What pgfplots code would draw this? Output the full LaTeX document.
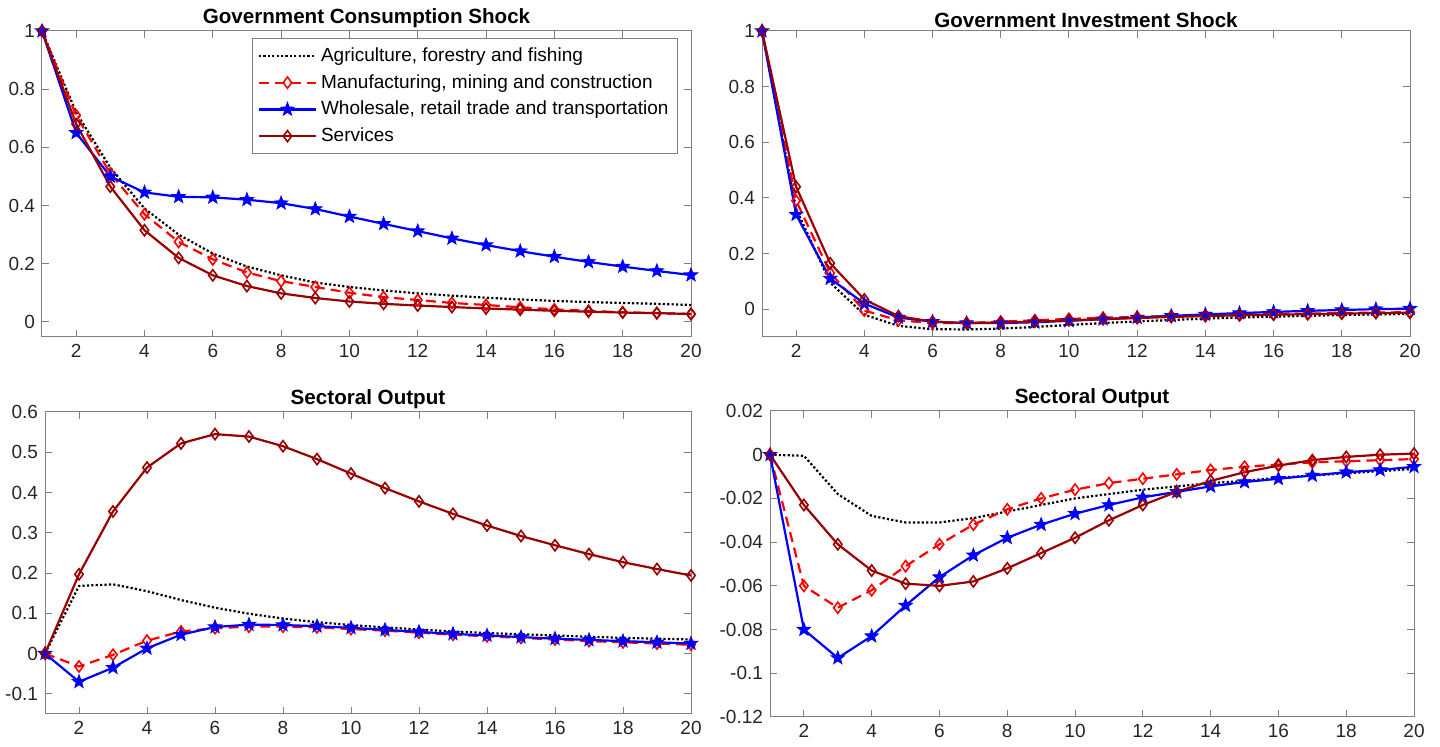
\documentclass[border=0pt]{standalone}
\usepackage{fontspec}
\setmainfont{Liberation Sans}
\usepackage{pgfplots}
\pgfplotsset{compat=1.18}
\definecolor{svc}{rgb}{0.6,0,0}
\definecolor{axgray}{rgb}{0.5,0.5,0.5}
\definecolor{txtgray}{rgb}{0.15,0.15,0.15}
\pgfdeclareplotmark{fstar}{%
  \pgfpathmoveto{\pgfpointpolar{90}{\pgfplotmarksize}}%
  \pgfpathlineto{\pgfpointpolar{126}{0.42\pgfplotmarksize}}%
  \pgfpathlineto{\pgfpointpolar{162}{\pgfplotmarksize}}%
  \pgfpathlineto{\pgfpointpolar{198}{0.42\pgfplotmarksize}}%
  \pgfpathlineto{\pgfpointpolar{234}{\pgfplotmarksize}}%
  \pgfpathlineto{\pgfpointpolar{270}{0.42\pgfplotmarksize}}%
  \pgfpathlineto{\pgfpointpolar{306}{\pgfplotmarksize}}%
  \pgfpathlineto{\pgfpointpolar{342}{0.42\pgfplotmarksize}}%
  \pgfpathlineto{\pgfpointpolar{18}{\pgfplotmarksize}}%
  \pgfpathlineto{\pgfpointpolar{54}{0.42\pgfplotmarksize}}%
  \pgfpathclose\pgfusepathqfillstroke}
\pgfplotsset{
  every axis/.style={
    scale only axis, anchor=south west,
    xmin=1, xmax=20, xtick={2,4,...,20},
    axis line style={axgray, line width=0.5pt},
    tick style={axgray, line width=0.5pt},
    major tick length=3.5pt,
    tick align=inside, xtick pos=both, ytick pos=both,
    tick label style={font=\fontsize{9.5}{11}\selectfont, text=txtgray},
    /pgf/number format/assume math mode=true,
    /pgf/number format/fixed,
    title style={font=\bfseries\fontsize{10.3}{12}\selectfont, yshift=-7.8pt},
    clip=false,
  },
  agr/.style={black, line width=1.1pt, dash pattern=on 1.1pt off 1.1pt, mark=none},
  man/.style={red, line width=1.1pt, dash pattern=on 5pt off 3pt, mark=diamond, mark size=2.8pt, mark options={solid, fill=white, line width=0.8pt}},
  whs/.style={blue, line width=1.1pt, mark=fstar, mark size=3.4pt, mark options={solid, fill=blue, line width=0.5pt}},
  srv/.style={svc, line width=1.1pt, mark=diamond, mark size=2.8pt, mark options={solid, fill=svc!60!white, line width=0.8pt}},
}
\begin{document}
\begin{tikzpicture}
\useasboundingbox (0pt,0pt) rectangle (720pt,373.5pt);
% Panel 1
\begin{axis}[at={(21pt,205pt)}, width=324.5pt, height=153pt,
  ymin=-0.052, ymax=1, ytick={0,0.2,0.4,0.6,0.8,1},
  yticklabels={0,0.2,0.4,0.6,0.8,1},
  title={Government Consumption Shock},
  legend image code/.code={\draw[mark repeat=2,mark phase=2] plot coordinates {(0cm,0cm)(0.5cm,0cm)(1.0cm,0cm)};},
  legend style={at={(1,1)}, xshift=-6.5pt, yshift=-3.5pt, anchor=north east,
    draw=axgray, line width=0.5pt, font=\fontsize{9.5}{11}\selectfont, text=black,
    row sep=1pt, inner sep=2.5pt},
  legend cell align=left]
\addplot[agr] coordinates {(1,1)(2,0.72)(3,0.53)(4,0.39)(5,0.30)(6,0.235)(7,0.19)(8,0.16)(9,0.135)(10,0.12)(11,0.108)(12,0.098)(13,0.09)(14,0.083)(15,0.077)(16,0.072)(17,0.068)(18,0.065)(19,0.062)(20,0.058)};
\addlegendentry{Agriculture, forestry and fishing}
\addplot[man] coordinates {(1,1)(2,0.71)(3,0.51)(4,0.37)(5,0.275)(6,0.215)(7,0.17)(8,0.14)(9,0.12)(10,0.10)(11,0.085)(12,0.075)(13,0.065)(14,0.058)(15,0.05)(16,0.043)(17,0.038)(18,0.033)(19,0.03)(20,0.027)};
\addlegendentry{Manufacturing, mining and construction}
\addplot[whs] coordinates {(1,1)(2,0.65)(3,0.50)(4,0.445)(5,0.43)(6,0.428)(7,0.42)(8,0.408)(9,0.388)(10,0.362)(11,0.337)(12,0.312)(13,0.287)(14,0.264)(15,0.243)(16,0.224)(17,0.206)(18,0.19)(19,0.175)(20,0.161)};
\addlegendentry{Wholesale, retail trade and transportation}
\addplot[srv] coordinates {(1,1)(2,0.68)(3,0.465)(4,0.315)(5,0.22)(6,0.16)(7,0.123)(8,0.098)(9,0.082)(10,0.07)(11,0.062)(12,0.056)(13,0.051)(14,0.046)(15,0.042)(16,0.038)(17,0.035)(18,0.032)(19,0.03)(20,0.027)};
\addlegendentry{Services}
\end{axis}
% Panel 2
\begin{axis}[at={(381pt,205pt)}, width=324pt, height=153pt,
  ymin=-0.1, ymax=1, ytick={0,0.2,0.4,0.6,0.8,1},
  yticklabels={0,0.2,0.4,0.6,0.8,1},
  title={Government Investment Shock}]
\addplot[agr] coordinates {(1,1)(2,0.36)(3,0.095)(4,-0.02)(5,-0.06)(6,-0.072)(7,-0.073)(8,-0.07)(9,-0.064)(10,-0.057)(11,-0.05)(12,-0.044)(13,-0.039)(14,-0.034)(15,-0.03)(16,-0.027)(17,-0.024)(18,-0.021)(19,-0.019)(20,-0.017)};
\addplot[man] coordinates {(1,1)(2,0.39)(3,0.13)(4,-0.005)(5,-0.04)(6,-0.05)(7,-0.05)(8,-0.045)(9,-0.04)(10,-0.035)(11,-0.031)(12,-0.028)(13,-0.025)(14,-0.022)(15,-0.02)(16,-0.018)(17,-0.016)(18,-0.014)(19,-0.012)(20,-0.011)};
\addplot[whs] coordinates {(1,1)(2,0.34)(3,0.11)(4,0.02)(5,-0.03)(6,-0.045)(7,-0.05)(8,-0.05)(9,-0.047)(10,-0.042)(11,-0.036)(12,-0.03)(13,-0.024)(14,-0.019)(15,-0.014)(16,-0.01)(17,-0.006)(18,-0.003)(19,0.0)(20,0.002)};
\addplot[srv] coordinates {(1,1)(2,0.44)(3,0.165)(4,0.035)(5,-0.025)(6,-0.045)(7,-0.05)(8,-0.048)(9,-0.045)(10,-0.04)(11,-0.036)(12,-0.032)(13,-0.028)(14,-0.025)(15,-0.022)(16,-0.02)(17,-0.018)(18,-0.016)(19,-0.014)(20,-0.013)};
\end{axis}
% Panel 3
\begin{axis}[at={(22.5pt,16.5pt)}, width=323pt, height=151pt,
  ymin=-0.15, ymax=0.6, ytick={-0.1,0,0.1,0.2,0.3,0.4,0.5,0.6},
  yticklabels={-0.1,0,0.1,0.2,0.3,0.4,0.5,0.6},
  title={Sectoral Output}]
\addplot[agr] coordinates {(1,0)(2,0.168)(3,0.172)(4,0.155)(5,0.133)(6,0.114)(7,0.099)(8,0.087)(9,0.078)(10,0.071)(11,0.065)(12,0.06)(13,0.055)(14,0.051)(15,0.048)(16,0.045)(17,0.042)(18,0.039)(19,0.037)(20,0.035)};
\addplot[man] coordinates {(1,0)(2,-0.032)(3,-0.003)(4,0.032)(5,0.055)(6,0.063)(7,0.067)(8,0.067)(9,0.065)(10,0.061)(11,0.057)(12,0.052)(13,0.047)(14,0.043)(15,0.039)(16,0.035)(17,0.031)(18,0.028)(19,0.025)(20,0.022)};
\addplot[whs] coordinates {(1,0)(2,-0.07)(3,-0.035)(4,0.013)(5,0.047)(6,0.066)(7,0.072)(8,0.071)(9,0.068)(10,0.064)(11,0.059)(12,0.054)(13,0.049)(14,0.045)(15,0.041)(16,0.037)(17,0.034)(18,0.031)(19,0.028)(20,0.025)};
\addplot[srv] coordinates {(1,0)(2,0.197)(3,0.353)(4,0.462)(5,0.522)(6,0.545)(7,0.539)(8,0.515)(9,0.483)(10,0.447)(11,0.411)(12,0.378)(13,0.347)(14,0.318)(15,0.292)(16,0.269)(17,0.247)(18,0.227)(19,0.21)(20,0.194)};
\end{axis}
% Panel 4
\begin{axis}[at={(385pt,15pt)}, width=322pt, height=153pt,
  ymin=-0.12, ymax=0.02, ytick={-0.12,-0.1,-0.08,-0.06,-0.04,-0.02,0,0.02},
  yticklabels={-0.12,-0.1,-0.08,-0.06,-0.04,-0.02,0,0.02},
  title={Sectoral Output}]
\addplot[agr] coordinates {(1,0)(2,-0.0005)(3,-0.018)(4,-0.028)(5,-0.031)(6,-0.031)(7,-0.029)(8,-0.026)(9,-0.023)(10,-0.02)(11,-0.018)(12,-0.016)(13,-0.0145)(14,-0.013)(15,-0.012)(16,-0.0105)(17,-0.0095)(18,-0.0085)(19,-0.0075)(20,-0.0065)};
\addplot[man] coordinates {(1,0)(2,-0.060)(3,-0.070)(4,-0.062)(5,-0.051)(6,-0.041)(7,-0.032)(8,-0.025)(9,-0.020)(10,-0.016)(11,-0.013)(12,-0.011)(13,-0.009)(14,-0.007)(15,-0.0055)(16,-0.0045)(17,-0.0035)(18,-0.003)(19,-0.0025)(20,-0.002)};
\addplot[whs] coordinates {(1,0)(2,-0.080)(3,-0.093)(4,-0.083)(5,-0.069)(6,-0.056)(7,-0.046)(8,-0.038)(9,-0.032)(10,-0.027)(11,-0.023)(12,-0.0195)(13,-0.017)(14,-0.0145)(15,-0.0125)(16,-0.011)(17,-0.0095)(18,-0.008)(19,-0.007)(20,-0.0055)};
\addplot[srv] coordinates {(1,0)(2,-0.023)(3,-0.041)(4,-0.053)(5,-0.059)(6,-0.060)(7,-0.058)(8,-0.052)(9,-0.045)(10,-0.038)(11,-0.030)(12,-0.023)(13,-0.017)(14,-0.012)(15,-0.008)(16,-0.005)(17,-0.0025)(18,-0.001)(19,0.0)(20,0.0005)};
\end{axis}
\end{tikzpicture}
\end{document}
